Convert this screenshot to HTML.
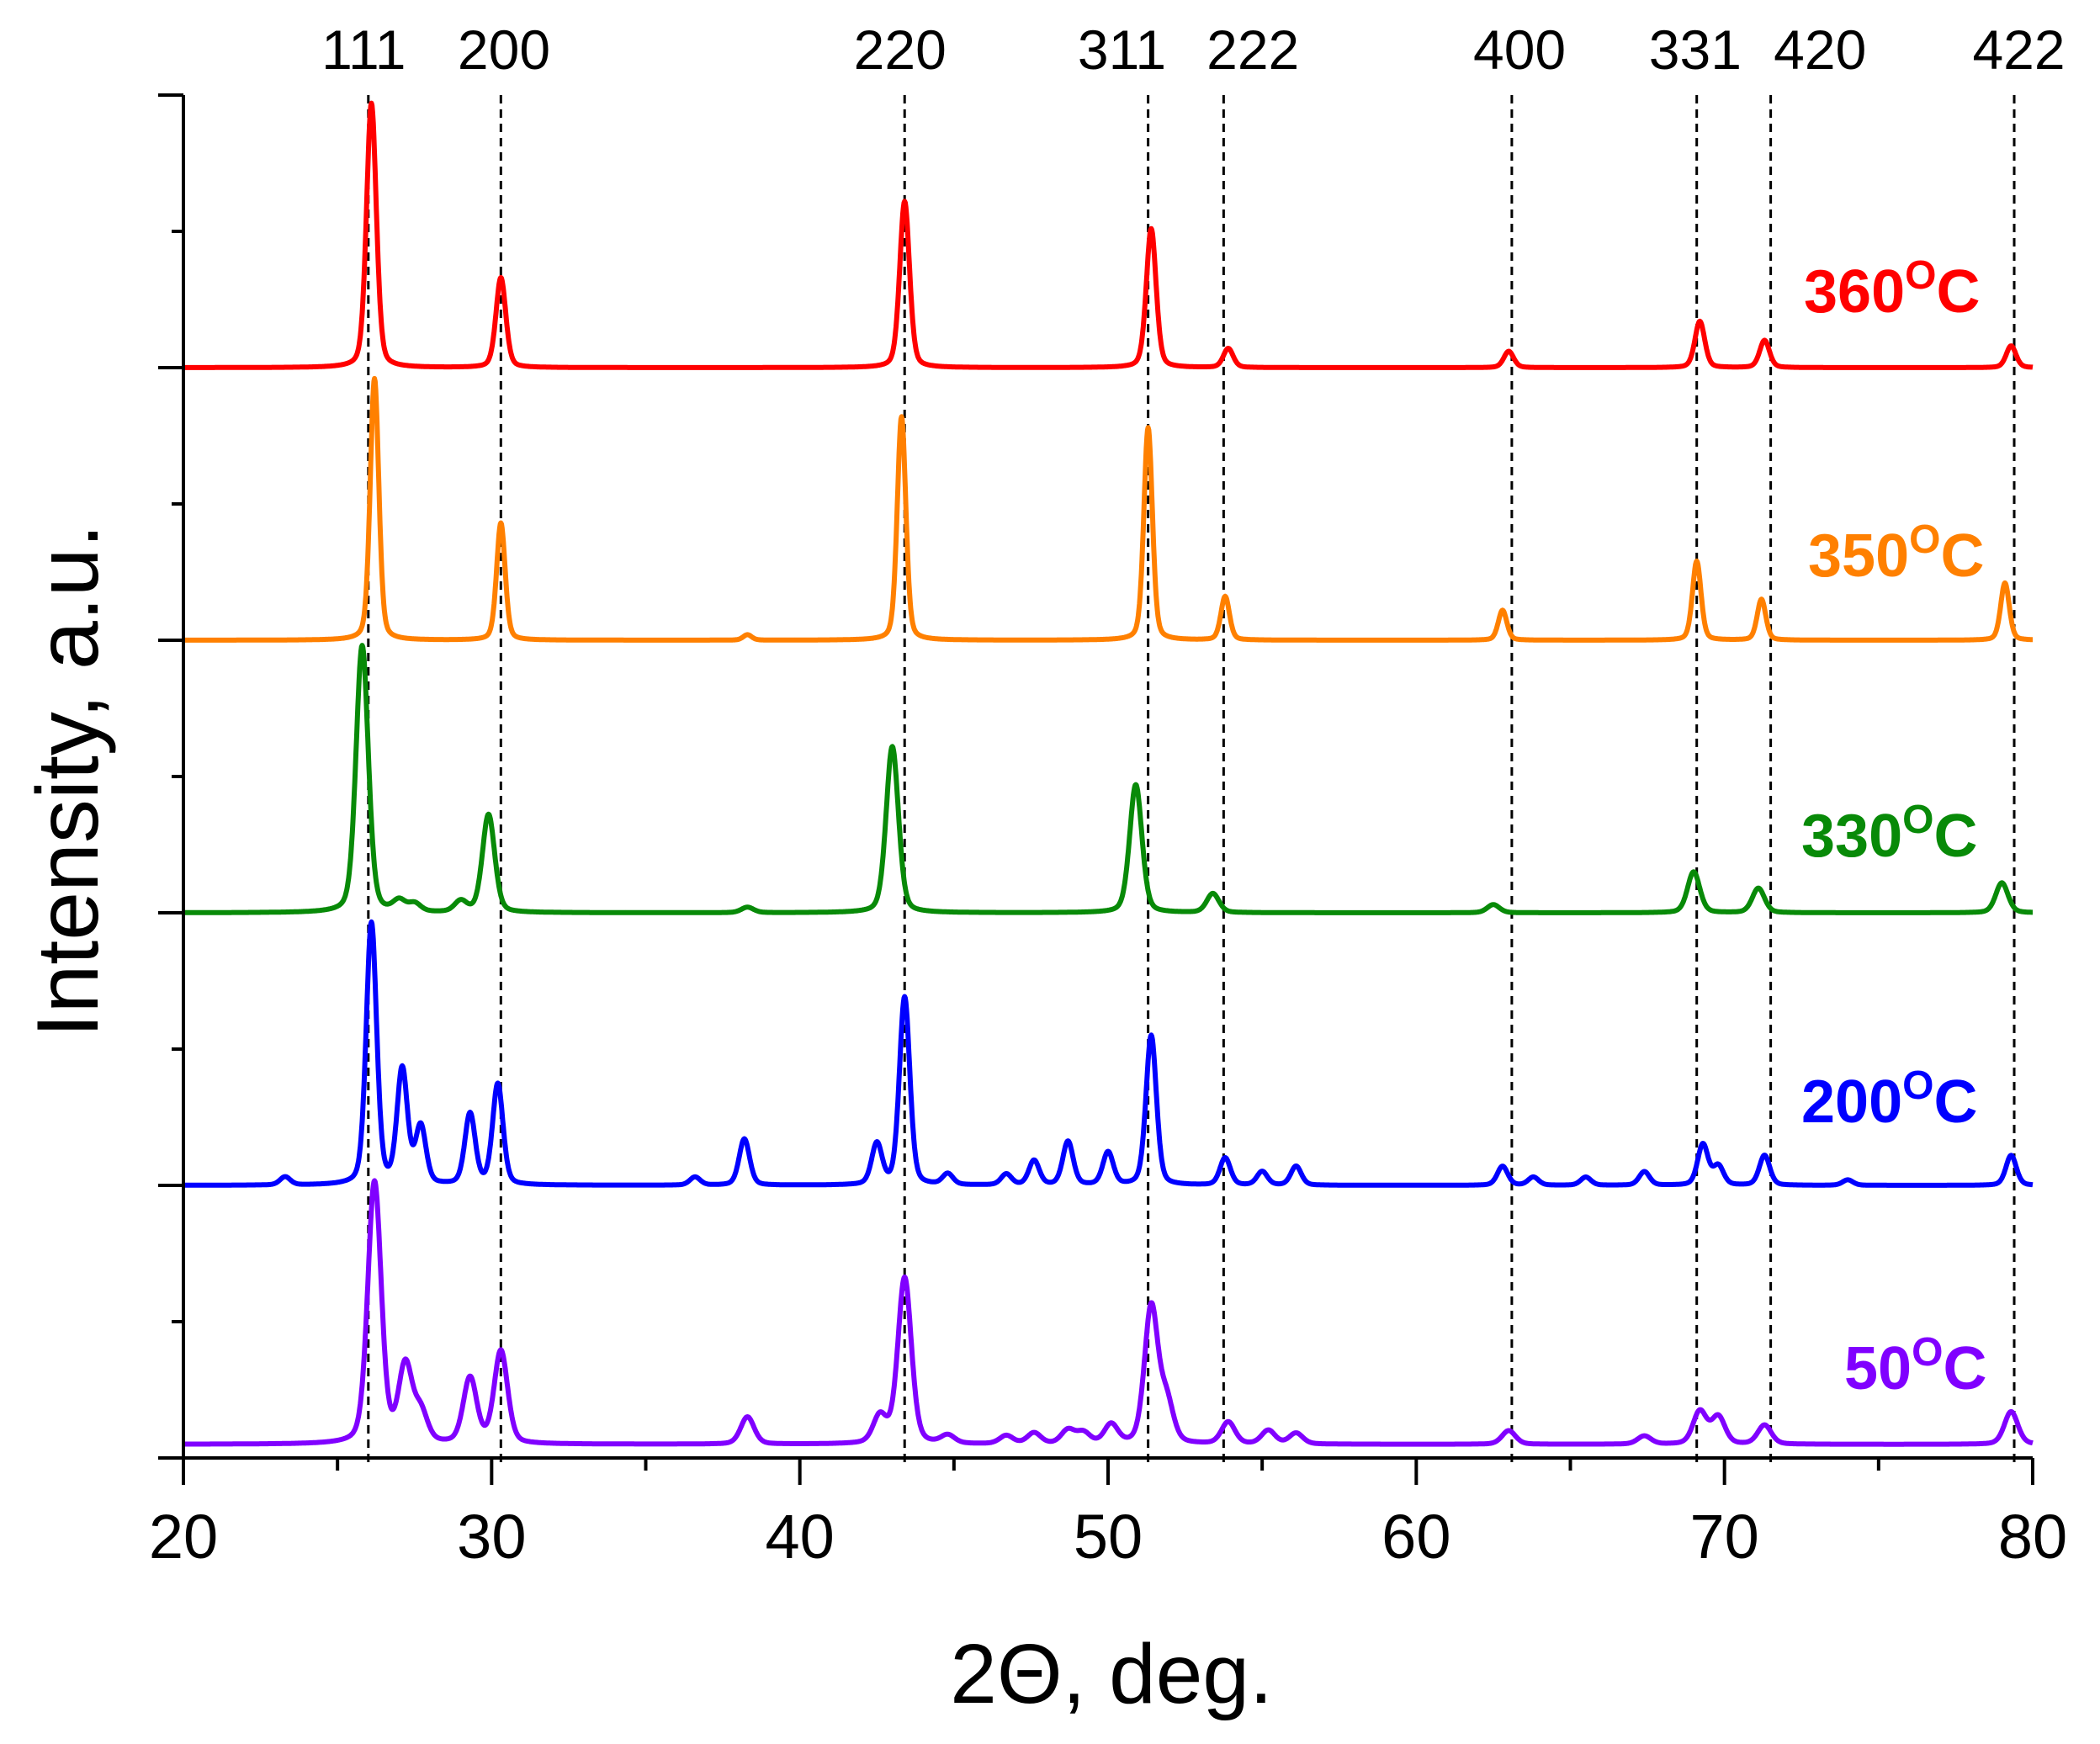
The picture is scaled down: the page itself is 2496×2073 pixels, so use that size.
<!DOCTYPE html>
<html><head><meta charset="utf-8"><style>
html,body{margin:0;padding:0;background:#fff}
svg{display:block}
text{font-family:"Liberation Sans",Arial,sans-serif}
</style></head><body>
<svg id="chart" width="2496" height="2073" viewBox="0 0 2496 2073" xmlns="http://www.w3.org/2000/svg">
<g id="refs"></g>
<g id="series"></g>
<g id="axes"></g>
<text transform="translate(116,928) rotate(-90)" text-anchor="middle" font-size="104">Intensity, a.u.</text>
<text x="1321" y="2024" text-anchor="middle" font-size="100">2Θ, deg.</text>
</svg>
<script>
const xTicks = [20,30,40,50,60,70,80];
const hklLabels = ['111','200','220','311','222','400','331','420','422'];
const hklPos = [26.0,30.3,43.4,51.3,53.75,63.1,69.1,71.5,79.4];
const hklLabelPos = [25.85,30.4,43.25,50.45,54.7,63.35,69.05,73.1,79.55];
const seriesNames = ['360°C','350°C','330°C','200°C','50°C'];
const seriesColors = ['#ff0000','#ff8000','#088a08','#0000ff','#8000ff'];
const seriesOffsets = [400,300,200,100,5];
const pos360 = [26.1,30.3,43.4,51.4,53.9,63.0,69.2,71.3,79.3];
const h360 = [97,33,61,51,7,6,17,10,8];
const pos350 = [26.2,30.3,38.3,43.3,51.3,53.8,62.8,69.1,71.2,79.1];
const h350 = [96,43,2,82,78,16,11,29,15,21];
const pos330 = [25.8,27.0,27.5,29.0,29.9,38.3,43.0,50.9,53.4,62.5,69.0,71.1,79.0];
const h330 = [98,4,3,4,36,2,61,47,7,3,15,9,11];
const pos200 = [23.3,26.1,27.1,27.7,29.3,30.2,36.6,38.2,42.5,43.4,44.8,46.7,47.6,48.7,50.0,51.4,53.8,55.0,56.1,62.8,63.8,65.5,67.4,69.3,69.8,71.3,74.0,79.3];
const h200 = [3,96,42,21,26,37,3,17,15,69,4,4,9,16,12,55,10,5,7,7,3,3,5,15,7,11,2,11];
const pos50 = [26.2,27.2,27.7,29.3,30.3,38.3,42.6,43.4,44.8,46.7,47.6,48.7,49.2,50.1,51.4,51.9,53.9,55.2,56.1,63.0,67.4,69.2,69.8,71.3,79.3];
const h50 = [96,28,11,24,34,10,10,61,3,3,4,5,4,7,50,15,8,5,4,5,3,12,10,7,12];
const seriesPos = [pos360,pos350,pos330,pos200,pos50];
const seriesH = [h360,h350,h330,h200,h50];
const seriesW = [0.16,0.14,0.2,0.17,0.22];

const NS='http://www.w3.org/2000/svg';
const X0=218, X1=2416, Y0=1733, YT=113;
const xs = v => X0 + (v-20)/(80-20)*(X1-X0);
const ys = v => Y0 - v/500*(Y0-YT);
function mk(tag, attrs, parent){const e=document.createElementNS(NS,tag);for(const k in attrs)e.setAttribute(k,attrs[k]);parent.appendChild(e);return e;}
const axes=document.getElementById('axes'), refs=document.getElementById('refs'), ser=document.getElementById('series');

hklPos.forEach((p,i)=>{
  const l=mk('line',{x1:xs(p),x2:xs(p),y1:YT,y2:Y0+12,stroke:'#000','stroke-width':3,'stroke-dasharray':'10,7'},refs);
  
  
  const t=mk('text',{x:xs(hklLabelPos[i]),y:82,'text-anchor':'middle','font-size':66},refs);
  t.textContent=hklLabels[i];
  
  
});

seriesNames.forEach((name,si)=>{
  let d='';
  for(let x=20;x<=80.0001;x+=0.02){
    let v=seriesOffsets[si];
    const P=seriesPos[si],H=seriesH[si],w=seriesW[si];
    for(let k=0;k<P.length;k++){
      const z=(x-P[k])/w;
      const g=Math.exp(-0.5*z*z);
      const lz=(x-P[k])/(w*1.18);
      const lo=1/(1+lz*lz);
      v+=H[k]*(0.7*g+0.3*lo);
    }
    d+=(d?'L':'M')+xs(x).toFixed(1)+','+ys(v).toFixed(1);
  }
  const p=mk('path',{d:d,fill:'none',stroke:seriesColors[si],'stroke-width':6,'stroke-linejoin':'round'},ser);
  
  
});

const labX=[2144,2149,2141,2141,2192], labY=[371,685,1018,1334,1651];
seriesNames.forEach((name,si)=>{
  const t=mk('text',{x:labX[si],y:labY[si],'font-size':72,'font-weight':'bold',fill:seriesColors[si]},axes);
  
  
  const a=mk('tspan',{},t);a.textContent=name.replace('°C','');
  const b=mk('tspan',{dy:-28,'font-size':48},t);b.textContent='O';
  const c=mk('tspan',{dy:28},t);c.textContent='C';
});

const ax=mk('path',{d:`M${X0},${YT}L${X0},${Y0}L${X1},${Y0}`,fill:'none',stroke:'#000','stroke-width':4},axes);


for(let v=0;v<=500;v+=50){
  const major=v%100===0, len=major?30:14;
  const t=mk('line',{x1:X0-len,x2:X0,y1:ys(v),y2:ys(v),stroke:'#000','stroke-width':4},axes);
  
  
}
for(let v=20;v<=80;v+=5){
  const major=v%10===0, len=major?32:15;
  const t=mk('line',{x1:xs(v),x2:xs(v),y1:Y0,y2:Y0+len,stroke:'#000','stroke-width':4},axes);
  
  
}
xTicks.forEach(v=>{
  const t=mk('text',{x:xs(v),y:1852,'text-anchor':'middle','font-size':74},axes);
  t.textContent=v;
  
  
});
</script>
</body></html>
